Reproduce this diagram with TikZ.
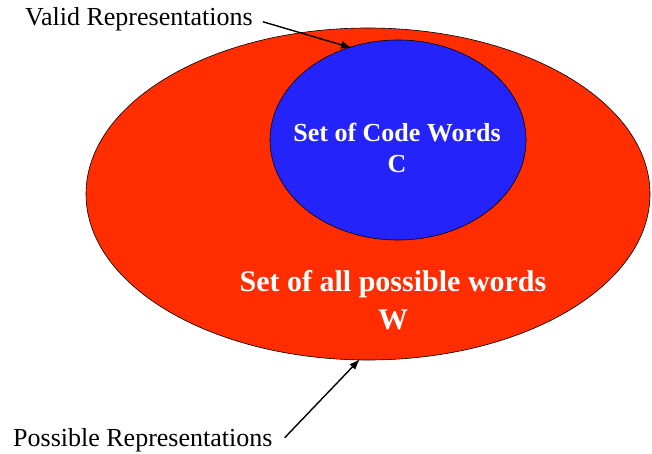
\documentclass[tikz,border=0pt]{standalone}
\usepackage{fontspec}
\usetikzlibrary{arrows.meta}
\setmainfont{Liberation Serif}
\begin{document}
\begin{tikzpicture}[x=1pt,y=-1pt,
  label/.style={font=\fontsize{26}{30}\selectfont,text=black,inner sep=0pt},
  inlabel/.style={font=\bfseries\fontsize{26}{31}\selectfont,text=white,align=center,inner sep=0pt},
  pointer/.style={-{Latex[length=11pt,width=8pt]},line width=1.4pt,black}]
\definecolor{wordred}{RGB}{255,45,0}
\definecolor{codeblue}{RGB}{36,36,250}
\useasboundingbox (0,0) rectangle (652,454);
% outer set: all possible words
\filldraw[fill=wordred,draw=black,line width=0.6pt] (368,194) ellipse [x radius=282,y radius=166];
% inner set: code words
\filldraw[fill=codeblue,draw=black,line width=0.6pt] (398,140) ellipse [x radius=128,y radius=100];
\coordinate (innertop) at (352,48);
\coordinate (outerbottom) at (360,359);
\node[inlabel] (codewords) at (397,148) {Set of Code Words\\C};
\node[inlabel,font=\bfseries\fontsize{30}{38}\selectfont] (allwords) at (393,300) {Set of all possible words\\W};
\node[label,anchor=base west] (valid) at (25,26) {Valid Representations};
\node[label,anchor=base west] (possible) at (13,446) {Possible Representations};
\draw[pointer] (valid.east) ++(10,2) -- (innertop);
\draw[pointer] (possible.east) ++(12,-2) -- (outerbottom);
\end{tikzpicture}
\end{document}
